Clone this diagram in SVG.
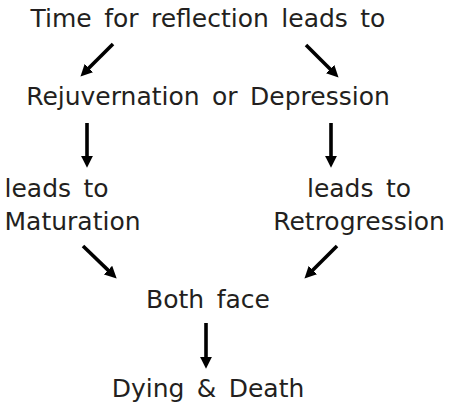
<svg xmlns="http://www.w3.org/2000/svg" width="449" height="402" viewBox="0 0 449 402">
  <style>
    .t { font-family: "DejaVu Sans", Verdana, sans-serif; font-size: 25px; fill: #231f20; word-spacing: 4.5px; }
    .c { text-anchor: middle; }
    .a { stroke: #000; stroke-width: 3.6; fill: none; marker-end: url(#ah); }
  </style>
  <defs>
    <marker id="ah" markerUnits="userSpaceOnUse" markerWidth="12" markerHeight="12" viewBox="0 0 11 11" refX="2" refY="5.5" orient="auto">
      <path d="M0,0 L11,5.5 L0,11 z" fill="#000"/>
    </marker>
  </defs>
  <rect width="449" height="402" fill="#fff"/>
  <g id="connectors">
    <line class="a" x1="113" y1="44" x2="87.4" y2="69.6"/>
    <line class="a" x1="306" y1="45" x2="331.6" y2="70.6"/>
    <line class="a" x1="87" y1="123" x2="87" y2="158"/>
    <line class="a" x1="331" y1="123" x2="331" y2="158"/>
    <line class="a" x1="83" y1="246" x2="109.6" y2="271.6"/>
    <line class="a" x1="337" y1="246" x2="311.4" y2="271.6"/>
    <line class="a" x1="206" y1="323" x2="206" y2="359"/>
  </g>
  <g id="n-time"><text class="t c" x="208" y="26.5">Time for reflection leads to</text></g>
  <g id="n-rejuv"><text class="t c" x="208" y="105">Rejuvernation or Depression</text></g>
  <g id="n-mat">
    <text class="t" x="4.5" y="196.5">leads to</text>
    <text class="t" x="4.5" y="230">Maturation</text>
  </g>
  <g id="n-retro">
    <text class="t c" x="359" y="196.5">leads to</text>
    <text class="t c" x="359" y="230">Retrogression</text>
  </g>
  <g id="n-both"><text class="t c" x="208" y="308.3">Both face</text></g>
  <g id="n-death"><text class="t c" x="208" y="397">Dying &amp; Death</text></g>
</svg>
